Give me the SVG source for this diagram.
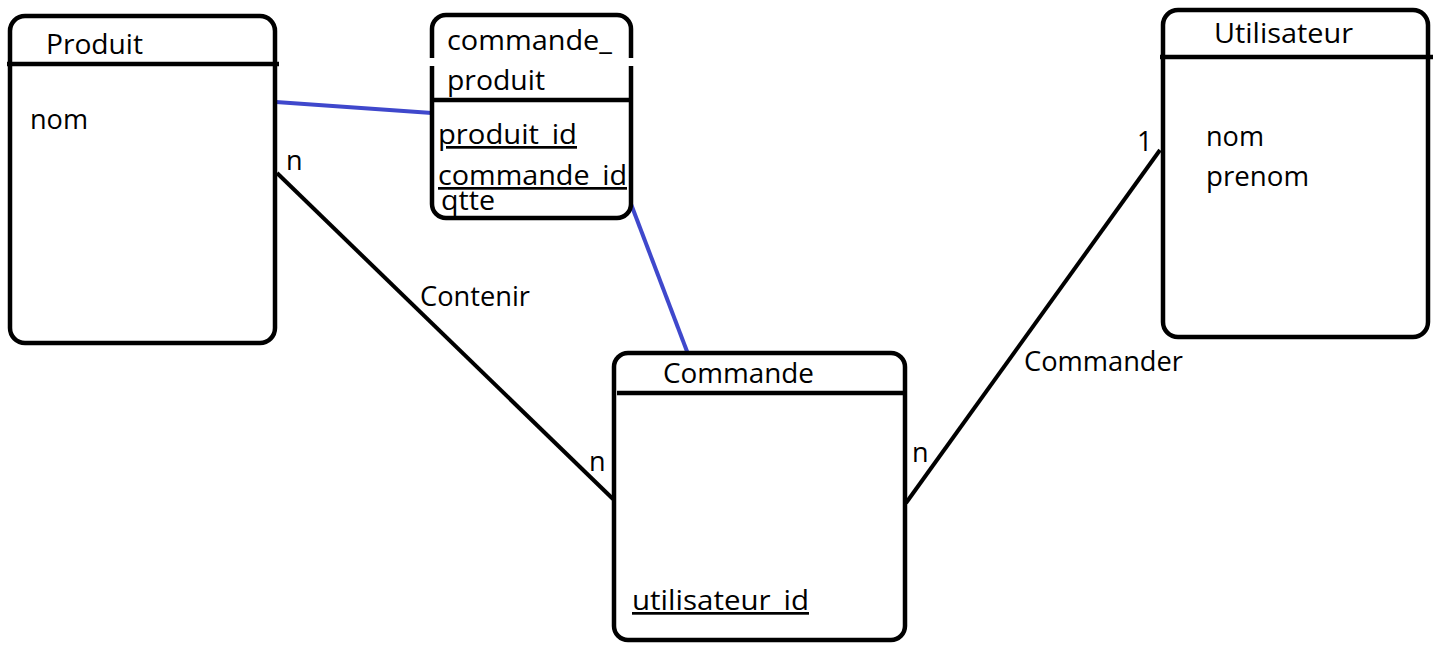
<svg xmlns="http://www.w3.org/2000/svg" width="1441" height="654" viewBox="0 0 1441 654">
<style>
.box{fill:#fff;stroke:#000;stroke-width:4.5}
.sep{stroke:#000;stroke-width:4.5}
text{font-family:"Open Sans","Noto Sans",sans-serif;font-size:27px;fill:#000}
.u{text-decoration:underline}
.rel{stroke:#000;stroke-width:4;fill:none}
.blue{stroke:#3f48cc;stroke-width:4;fill:none}
</style>
<rect width="1441" height="654" fill="#fff"/>
<g id="connectors">
<line class="blue" x1="276" y1="102" x2="432" y2="113"/>
<line class="blue" x1="631" y1="204" x2="688" y2="354"/>
<line class="rel" x1="277" y1="173" x2="613" y2="499"/>
<line class="rel" x1="906" y1="503" x2="1160" y2="150"/>
<text x="286" y="170">n</text>
<text x="589" y="471">n</text>
<text x="912" y="462">n</text>
<text x="1137" y="151">1</text>
<text x="420" y="306" textLength="110" lengthAdjust="spacingAndGlyphs">Contenir</text>
<text x="1024" y="371" textLength="159" lengthAdjust="spacingAndGlyphs">Commander</text>
</g>
<g id="produit">
<rect class="box" x="10" y="16" width="265" height="327" rx="15"/>
<line class="sep" x1="7" y1="64" x2="279" y2="64"/>
<text x="46" y="54" textLength="97" lengthAdjust="spacingAndGlyphs">Produit</text>
<text x="30" y="129" textLength="58" lengthAdjust="spacingAndGlyphs">nom</text>
</g>
<g id="commande_produit">
<rect class="box" x="432" y="15" width="199" height="203" rx="14"/>
<rect x="428" y="58" width="8" height="8" fill="#fff"/>
<rect x="627" y="58" width="8" height="8" fill="#fff"/>
<line class="sep" x1="432" y1="100" x2="631" y2="100"/>
<text x="447" y="50" textLength="165" lengthAdjust="spacingAndGlyphs">commande_</text>
<text x="447" y="90" textLength="98" lengthAdjust="spacingAndGlyphs">produit</text>
<text x="438" y="144" class="u" textLength="139" lengthAdjust="spacingAndGlyphs">produit_id</text>
<text x="438" y="185" class="u" textLength="189" lengthAdjust="spacingAndGlyphs">commande_id</text>
<text x="441" y="210" textLength="54" lengthAdjust="spacingAndGlyphs">qtte</text>
</g>
<g id="commande">
<rect class="box" x="614" y="353" width="291" height="287" rx="14"/>
<line class="sep" x1="617" y1="393" x2="905" y2="393"/>
<text x="663" y="383" textLength="151" lengthAdjust="spacingAndGlyphs">Commande</text>
<text x="632" y="610" class="u" textLength="177" lengthAdjust="spacingAndGlyphs">utilisateur_id</text>
</g>
<g id="utilisateur">
<rect class="box" x="1163" y="10" width="265" height="327" rx="15"/>
<line class="sep" x1="1160" y1="57" x2="1433" y2="57"/>
<text x="1214" y="43" textLength="139" lengthAdjust="spacingAndGlyphs">Utilisateur</text>
<text x="1206" y="146" textLength="58" lengthAdjust="spacingAndGlyphs">nom</text>
<text x="1206" y="186" textLength="103" lengthAdjust="spacingAndGlyphs">prenom</text>
</g>
</svg>
